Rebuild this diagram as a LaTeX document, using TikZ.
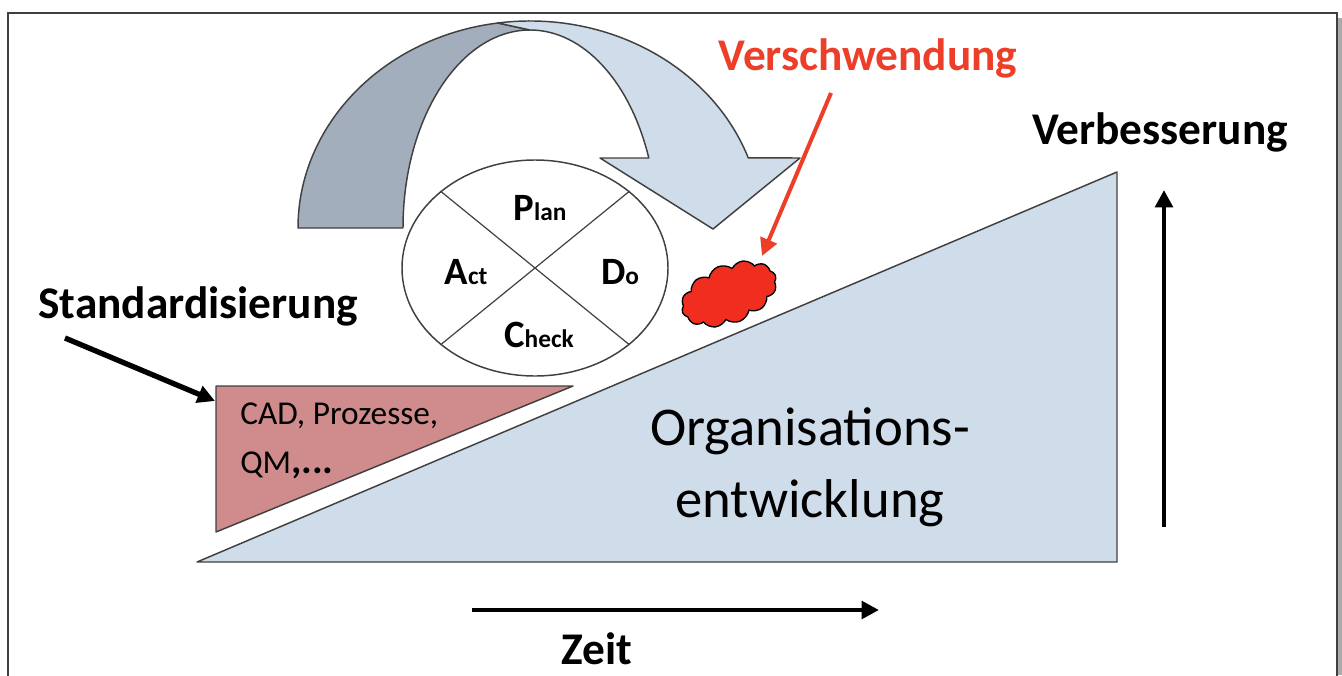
\documentclass[tikz,border=0pt]{standalone}
\usepackage{fontspec}
\setmainfont{Carlito}
\usetikzlibrary{arrows.meta,shapes.symbols,shapes.geometric}
\definecolor{edgegray}{RGB}{64,64,64}
\definecolor{backband}{RGB}{163,174,188}
\definecolor{frontband}{RGB}{207,221,235}
\definecolor{slopeblue}{RGB}{207,220,234}
\definecolor{stdrose}{RGB}{208,140,140}
\definecolor{wastered}{RGB}{240,45,30}
\definecolor{redtext}{RGB}{236,62,40}
\definecolor{shadowgray}{RGB}{170,170,170}

\begin{document}
\begin{tikzpicture}[x=0.75pt,y=-0.75pt,
  shapeline/.style={draw=edgegray,line width=1.1pt,line join=round},
  headline/.style={font=\fontsize{34}{40}\selectfont\bfseries,inner sep=0pt},
  bigarrow/.style={line width=3.6pt,-{Triangle[length=13pt,width=13pt]}},
  pdca/.style={inner sep=0pt},
]
\useasboundingbox (0,0) rectangle (1342,675);

% page frame with a soft shadow on the right
\fill[shadowgray] (1337,18) rectangle (1342,675);
\draw[edgegray,line width=1.5pt] (8,700) -- (8,13) -- (1337,13) -- (1337,700);

% rising slope of the organisation
\draw[shapeline,fill=slopeblue] (197,562) -- (1117,562) -- (1117,172) -- cycle;

% standardisation wedge
\draw[shapeline,fill=stdrose] (216,386) -- (573,386) -- (216,532) -- cycle;

% curved arrow: back band
\draw[shapeline,fill=backband]
  (298,228) arc[start angle=180,end angle=262,x radius=232,y radius=207]
  -- (530,30)
  arc[start angle=270,end angle=180,x radius=127,y radius=198]
  -- cycle;
% curved arrow: front band with head
\draw[shapeline,fill=frontband]
  (497.7,23) arc[start angle=262,end angle=340.2,x radius=232,y radius=207]
  -- (800,158) -- (713,229) -- (600,158) -- (648.8,158)
  arc[start angle=339.3,end angle=270,x radius=127,y radius=198]
  -- cycle;

% PDCA circle
\node[ellipse,draw=edgegray,line width=1.1pt,fill=white,
      minimum width=199.5pt,minimum height=162pt,inner sep=0pt] (cycle) at (535,268) {};
\draw[edgegray,line width=0.9pt] (cycle.north west) -- (cycle.south east);
\draw[edgegray,line width=0.9pt] (cycle.north east) -- (cycle.south west);
\node[pdca] (plan)  at (540,208) {{\fontsize{29}{32}\selectfont\bfseries P}{\fontsize{19}{22}\selectfont\bfseries lan}};
\node[pdca] (act)   at (466,272) {{\fontsize{29}{32}\selectfont\bfseries A}{\fontsize{19}{22}\selectfont\bfseries ct}};
\node[pdca] (do)    at (620,272) {{\fontsize{29}{32}\selectfont\bfseries D}{\fontsize{19}{22}\selectfont\bfseries o}};
\node[pdca] (check) at (539,335) {{\fontsize{29}{32}\selectfont\bfseries C}{\fontsize{19}{22}\selectfont\bfseries heck}};

% waste cloud
\node[cloud,cloud puffs=12,cloud puff arc=115,aspect=2.1,draw=black,line width=1pt,
      fill=wastered,minimum width=75pt,minimum height=44pt,inner sep=0pt,rotate=22] (waste) at (729,294) {};

% labels
\node[headline] (std) at (198,306) {Standardisierung};
\node[headline] (verb) at (1160,132) {Verbesserung};
\node[headline,text=redtext] (verschw) at (868,58) {Verschwendung};
\node[headline] (zeit) at (597,649) {Zeit};
\node[inner sep=0pt,font=\fontsize{41}{48}\selectfont,align=center] (org) at (810,467)
  {Organisations-\\[6pt]entwicklung};
\node[inner sep=0pt,anchor=west,font=\fontsize{25}{30}\selectfont] (cad) at (240,416) {CAD, Prozesse,};
\node[inner sep=0pt,anchor=west,font=\fontsize{25}{30}\selectfont] (qm) at (240,465) {QM\textbf{\fontsize{30}{30}\selectfont,...}};

% arrows
\coordinate (stdtip) at (215,401);
\coordinate (stdtail) at (65,338);
\coordinate (wastetail) at (831,93);
\coordinate (wastetip) at (762,256);
\coordinate (upstart) at (1164,527);
\coordinate (uptip) at (1164,190);
\coordinate (timestart) at (472,610);
\coordinate (timetip) at (879,610);
\draw[bigarrow,line width=4pt] (stdtail) -- (stdtip);
\draw[bigarrow,draw=redtext,line width=3pt] (wastetail) -- (wastetip);
\draw[bigarrow] (upstart) -- (uptip);
\draw[bigarrow] (timestart) -- (timetip);
\end{tikzpicture}
\end{document}
